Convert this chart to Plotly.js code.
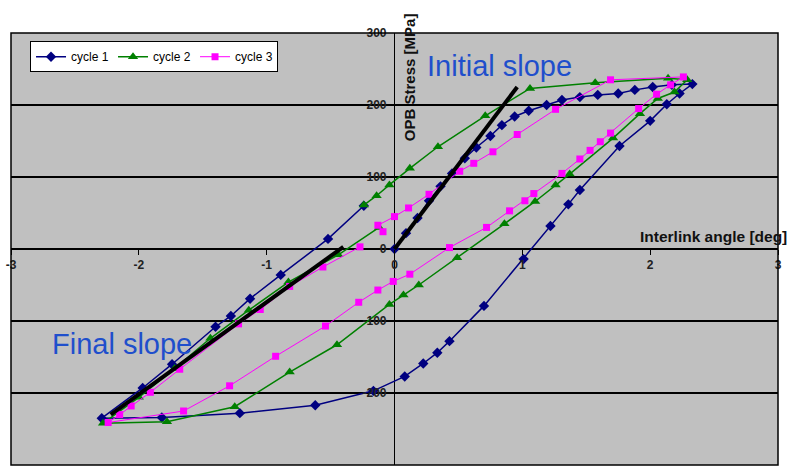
<!DOCTYPE html>
<html>
<head>
<meta charset="utf-8">
<script src="https://cdn.plot.ly/plotly-3.0.1.min.js"></script>
<style>html,body{margin:0;padding:0;background:#fff;}#chart{width:790px;height:468px;}</style>
</head>
<body>
<div id="chart"></div>
<script>
// Cycle 1 (angle in deg, stress in MPa)
var cycle1X = [0, 0.09, 0.18, 0.27, 0.36, 0.45, 0.55, 0.64, 0.75, 0.84, 0.94, 1.05, 1.19, 1.31, 1.45, 1.59, 1.75, 1.88, 2.02, 2.17, 2.33,
  2.23, 2.13, 2.0, 1.76, 1.45, 1.36, 1.22, 1.01, 0.70, 0.43, 0.335, 0.225, 0.08, -0.165, -0.62, -1.21, -1.82, -2.29,
  -1.97, -1.74, -1.40, -1.28, -1.13, -0.89, -0.52, -0.24];
var cycle1Y = [0, 22, 43, 67, 87, 105, 126, 141, 157, 172, 184, 192, 200, 207, 211, 214, 216, 221, 225, 228, 229,
  216, 201, 178, 143, 82, 62, 32, -14, -79, -128, -144, -159, -177, -197, -217, -228, -234, -235,
  -193, -160, -108, -93, -69, -36, 14, 60];

// Cycle 2
var cycle2X = [-0.24, -0.14, -0.04, 0.12, 0.34, 0.71, 1.06, 1.57, 2.14, 2.29,
  2.19, 2.06, 1.92, 1.71, 1.37, 1.26, 1.10, 0.86, 0.49, 0.19, 0.07, -0.04, -0.45, -0.82, -1.25, -1.78, -2.28,
  -2.0, -1.72, -1.44, -1.14, -0.83, -0.44, -0.12];
var cycle2Y = [61, 74, 89, 112, 142, 185, 223, 231, 237, 235,
  218, 209, 188, 154, 104, 89, 66, 35, -12, -50, -64, -77, -133, -171, -219, -240, -242,
  -206, -166, -124, -85, -46, -8, 30];

// Cycle 3
var cycle3X = [-0.09, -0.13, 0.0, 0.11, 0.27, 0.51, 0.62, 0.77, 0.96, 1.26, 1.69, 2.26,
  2.16, 2.05, 1.91, 1.69, 1.61, 1.53, 1.45, 1.31, 1.09, 1.02, 0.90, 0.72, 0.43, 0.12, -0.01, -0.13, -0.28, -0.54, -0.93, -1.29, -1.65, -2.24,
  -2.15, -2.06, -1.91, -1.68, -1.22, -1.05, -0.82, -0.56, -0.27];
var cycle3Y = [24, 33, 45, 57, 76, 108, 119, 135, 159, 194, 235, 239,
  228, 215, 195, 161, 149, 137, 125, 105, 77, 67, 53, 30, 2, -35, -45, -57, -74, -107, -149, -190, -225, -241,
  -230, -218, -199, -167, -104, -84, -52, -25, 3];

// Slope lines
var initialSlopeX = [0, 0.96];
var initialSlopeY = [0, 225];
var finalSlopeX = [-2.22, -0.40];
var finalSlopeY = [-230, 3];

var seriesNames = ['cycle 1', 'cycle 2', 'cycle 3'];
var xTickVals = [-3, -2, -1, 0, 1, 2, 3];
var yTickVals = [-300, -200, -100, 0, 100, 200, 300];

var FONT = 'Liberation Sans, Arial, sans-serif';

var traces = [
  {x: cycle1X, y: cycle1Y, name: seriesNames[0], type: 'scatter', mode: 'lines+markers',
   line: {color: '#000080', width: 1.5}, marker: {symbol: 'diamond', size: 8, color: '#000080'}},
  {x: cycle2X, y: cycle2Y, name: seriesNames[1], type: 'scatter', mode: 'lines+markers',
   line: {color: '#008000', width: 1.5}, marker: {symbol: 'triangle-up', size: 9, color: '#008000'}},
  {x: cycle3X, y: cycle3Y, name: seriesNames[2], type: 'scatter', mode: 'lines+markers',
   line: {color: '#ff00ff', width: 1}, marker: {symbol: 'square', size: 7, color: '#ff00ff'}},
  {x: initialSlopeX, y: initialSlopeY, type: 'scatter', mode: 'lines', showlegend: false,
   line: {color: '#000', width: 4}, hoverinfo: 'skip'},
  {x: finalSlopeX, y: finalSlopeY, type: 'scatter', mode: 'lines', showlegend: false,
   line: {color: '#000', width: 4}, hoverinfo: 'skip'}
];

var layout = {
  width: 790, height: 468,
  margin: {l: 11, r: 12, t: 33, b: 3, pad: 0},
  paper_bgcolor: '#ffffff',
  plot_bgcolor: '#c0c0c0',
  font: {family: FONT, color: '#000'},
  showlegend: true,
  legend: {
    x: 0.0248, y: 0.981, xanchor: 'left', yanchor: 'top',
    orientation: 'h', bgcolor: '#ffffff', bordercolor: '#000', borderwidth: 1,
    font: {family: FONT, size: 12, color: '#000'}, itemwidth: 30,
    entrywidth: 37, tracegroupgap: 0
  },
  xaxis: {
    range: [-3, 3], tickvals: xTickVals, ticktext: xTickVals.map(String),
    showgrid: false, zeroline: true, zerolinecolor: '#000', zerolinewidth: 1,
    anchor: 'free', position: 0.5, showline: false,
    ticks: 'outside', ticklen: 5, tickcolor: '#000', tickwidth: 1,
    tickfont: {family: FONT, size: 12, color: '#222', weight: 'bold'},
    fixedrange: true
  },
  yaxis: {
    range: [-300, 300], tickvals: yTickVals, ticktext: yTickVals.map(String),
    showgrid: true, gridcolor: '#000', gridwidth: 1.5,
    zeroline: true, zerolinecolor: '#000', zerolinewidth: 1.5,
    anchor: 'free', position: 0.5, showline: false,
    ticks: '', ticklabelstandoff: 8,
    tickfont: {family: FONT, size: 12, color: '#222', weight: 'bold'},
    fixedrange: true
  },
  shapes: [
    {type: 'rect', xref: 'paper', yref: 'paper', x0: 0, x1: 1, y0: 0, y1: 1,
     line: {color: '#000', width: 1.5}, fillcolor: 'rgba(0,0,0,0)'}
  ],
  annotations: [
    {text: 'Initial slope', x: 0.82, y: 254, xref: 'x', yref: 'y', showarrow: false,
     xanchor: 'center', yanchor: 'middle',
     font: {family: FONT, size: 29, color: '#1f4fcc'}},
    {text: 'Final slope', x: -2.13, y: -132, xref: 'x', yref: 'y', showarrow: false,
     xanchor: 'center', yanchor: 'middle',
     font: {family: FONT, size: 29, color: '#1f4fcc'}},
    {text: 'OPB Stress [MPa]', xref: 'paper', yref: 'paper', x: 0.519, y: 0.898,
     xanchor: 'center', yanchor: 'middle',
     textangle: -90, showarrow: false,
     font: {family: FONT, size: 15, color: '#111', weight: 'bold'}},
    {text: 'Interlink angle [deg]', xref: 'paper', yref: 'y', x: 1.0143, y: 16.7,
     xanchor: 'right', yanchor: 'middle', showarrow: false,
     font: {family: FONT, size: 15.5, color: '#111', weight: 'bold'}}
  ]
};

Plotly.newPlot('chart', traces, layout, {displayModeBar: false, staticPlot: true});
</script>
</body>
</html>
